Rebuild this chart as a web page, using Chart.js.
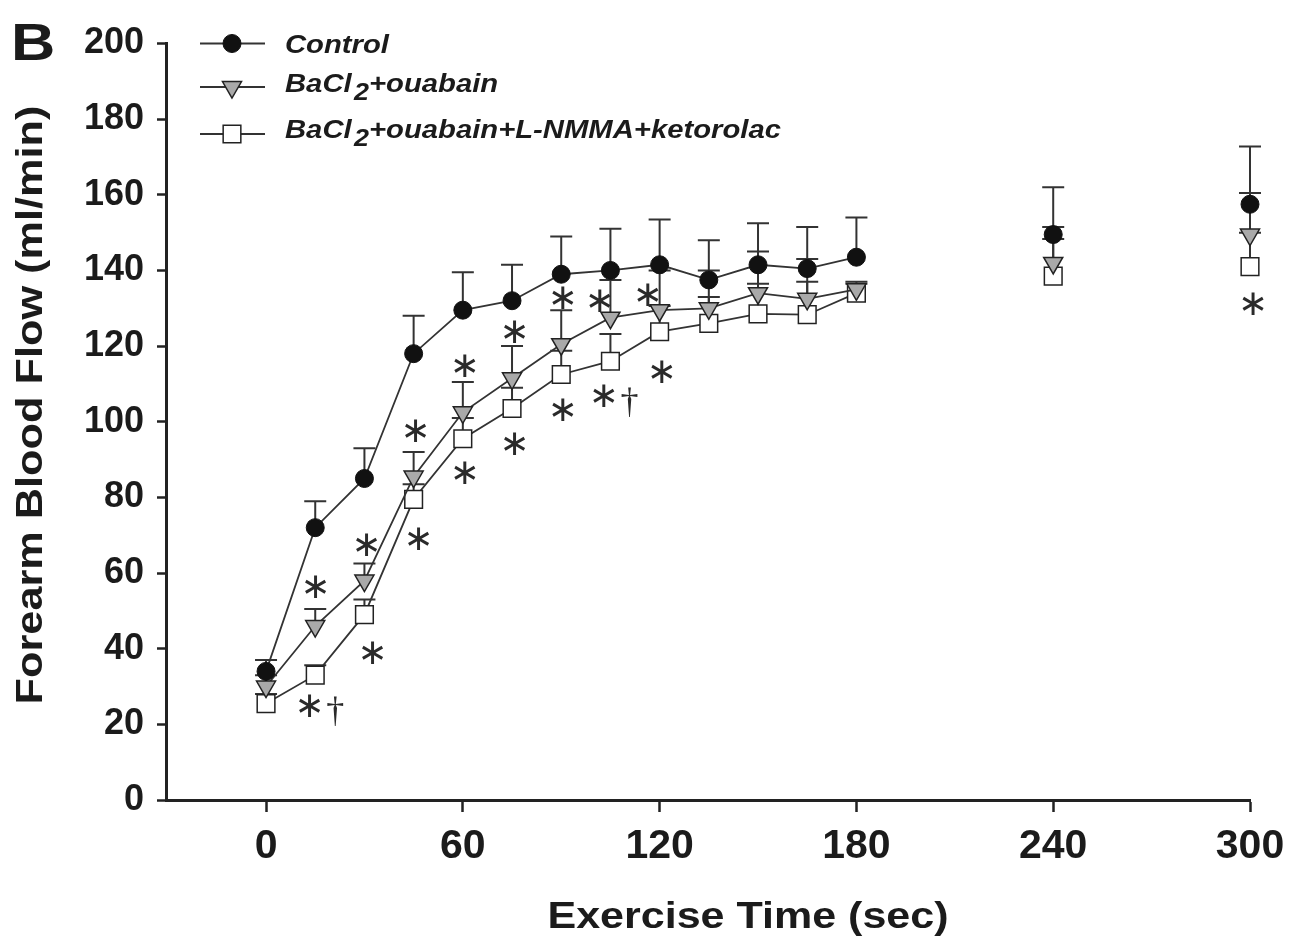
<!DOCTYPE html>
<html>
<head>
<meta charset="utf-8">
<script src="https://cdn.jsdelivr.net/npm/chart.js@4.4.0/dist/chart.umd.min.js"></script>
<style>
html,body{margin:0;padding:0;background:#ffffff;}
#wrap{width:1299px;height:948px;position:relative;}
</style>
</head>
<body>
<div id="wrap"><canvas id="c" width="1299" height="948"></canvas></div>
<script>
// ---------- data ----------
const times       = [0, 15, 30, 45, 60, 75, 90, 105, 120, 135, 150, 165, 180, 240, 300];
const controlMean = [34, 72, 85, 118, 129.5, 132, 139, 140, 141.5, 137.5, 141.5, 140.5, 143.5, 149.5, 157.5];
const controlSem  = [3, 7, 8, 10, 10, 9.5, 10, 11, 12, 10.5, 11, 11, 10.5, 12.5, 15.3];
const baMean      = [30, 46, 58, 85.5, 102.5, 111.5, 120.5, 127.5, 129.5, 130, 134, 132.5, 135, 142, 149.5];
const baSem       = [3, 4.5, 4.5, 6.5, 8, 8.5, 9, 10, 10.5, 10, 11, 10.5, 2, 9.5, 11];
const blockMean   = [25.5, 33, 49, 79.5, 95.5, 103.5, 112.5, 116, 123.8, 126, 128.5, 128.3, 134, 138.5, 141];
const blockSem    = [2.5, 2.6, 4, 4, 5.5, 5.5, 6.3, 7.2, 6.8, 7, 8, 8.7, 2.5, 9.8, 9];
const xTicks      = [0, 60, 120, 180, 240, 300];
const yTicks      = [0, 20, 40, 60, 80, 100, 120, 140, 160, 180, 200];
const seriesNames = ['Control', 'BaCl\u2082+ouabain', 'BaCl\u2082+ouabain+L-NMMA+ketorolac'];
// legend text pieces: [text, isSubscript]
const legendPieces = [
  [['Control', false]],
  [['BaCl', false], ['2', true], ['+ouabain', false]],
  [['BaCl', false], ['2', true], ['+ouabain+L-NMMA+ketorolac', false]]
];
// significance marks (data coordinates)
const sigX    = [15, 13.2, 21.1, 30.6, 32.4, 45.5, 46.4, 60.5, 60.5, 75.7, 75.7, 90.4, 90.4, 101.7, 102.9, 110.8, 116.3, 120.6, 300.9];
const sigY    = [55.8, 24.3, 23.8, 66.9, 38.3, 97.0, 68.7, 114.2, 85.9, 123.4, 93.8, 132.2, 102.6, 131.6, 106.3, 105.7, 133.2, 112.6, 130.8];
const sigText = ['\u2217', '\u2217', '\u2020', '\u2217', '\u2217', '\u2217', '\u2217', '\u2217', '\u2217', '\u2217', '\u2217', '\u2217', '\u2217', '\u2217', '\u2217', '\u2020', '\u2217', '\u2217', '\u2217'];
const xTitle = 'Exercise Time (sec)';
const yTitle = 'Forearm Blood Flow (ml/min)';
const panelLetter = 'B';

// ---------- styling ----------
const FAM = '"Liberation Sans", Arial, Helvetica, sans-serif';
const INK = '#1b1b1b';
const LINE = '#333333';
const means = [controlMean, baMean, blockMean];
const sems = [controlSem, baSem, blockSem];
const styles = [
  {pointStyle: 'circle', radius: 9, rotation: 0, bg: '#111111', border: '#111111', bw: 1},
  {pointStyle: 'triangle', radius: 11, rotation: 180, bg: '#a9a9a9', border: '#222222', bw: 1.5},
  {pointStyle: 'rect', radius: 12.5, rotation: 0, bg: '#ffffff', border: '#222222', bw: 1.5}
];

function stretchText(ctx, text, x, y, font, sx, align, baseline) {
  ctx.save();
  ctx.font = font;
  ctx.translate(x, y);
  ctx.scale(sx, 1);
  ctx.textAlign = align || 'left';
  ctx.textBaseline = baseline || 'alphabetic';
  ctx.fillText(text, 0, 0);
  ctx.restore();
}

const errorBars = {
  id: 'errorBars',
  beforeDatasetsDraw(chart) {
    const ctx = chart.ctx, ys = chart.scales.y;
    ctx.save();
    ctx.strokeStyle = LINE;
    ctx.lineWidth = 2;
    for (let i = chart.data.datasets.length - 1; i >= 0; i--) {
      const meta = chart.getDatasetMeta(i);
      meta.data.forEach((pt, j) => {
        const top = ys.getPixelForValue(means[i][j] + sems[i][j]);
        ctx.beginPath();
        ctx.moveTo(pt.x, pt.y);
        ctx.lineTo(pt.x, top);
        ctx.moveTo(pt.x - 11, top);
        ctx.lineTo(pt.x + 11, top);
        ctx.stroke();
      });
    }
    ctx.restore();
  }
};

const extras = {
  id: 'extras',
  afterDraw(chart) {
    const ctx = chart.ctx, xs = chart.scales.x, ys = chart.scales.y;
    ctx.save();
    // significance marks
    for (let k = 0; k < sigX.length; k++) {
      const px = xs.getPixelForValue(sigX[k]);
      const py = ys.getPixelForValue(sigY[k]);
      const isStar = sigText[k] === '\u2217';
      ctx.font = isStar ? '36px "DejaVu Sans", sans-serif' : '36px "Liberation Serif", serif';
      ctx.textAlign = 'center';
      ctx.textBaseline = 'middle';
      ctx.fillStyle = '#2a2a2a';
      ctx.fillText(sigText[k], px, isStar ? py : py + 3);
    }
    ctx.fillStyle = INK;
    // axis titles
    stretchText(ctx, xTitle, 748, 928, 'bold 37px ' + FAM, 1.163, 'center');
    ctx.save();
    ctx.translate(42, 405);
    ctx.rotate(-Math.PI / 2);
    stretchText(ctx, yTitle, 0, 0, 'bold 37px ' + FAM, 1.17, 'center');
    ctx.restore();
    // panel letter
    stretchText(ctx, panelLetter, 11, 60, 'bold 52px ' + FAM, 1.18, 'left');
    // legend
    const rowY = [43.5, 87, 134];
    const baseY = [53, 92, 138];
    for (let i = 0; i < legendPieces.length; i++) {
      ctx.strokeStyle = LINE;
      ctx.lineWidth = 1.8;
      ctx.beginPath();
      ctx.moveTo(200, rowY[i]);
      ctx.lineTo(265, rowY[i]);
      ctx.stroke();
      const s = styles[i];
      ctx.fillStyle = s.bg;
      ctx.strokeStyle = s.border;
      ctx.lineWidth = s.bw;
      Chart.helpers.drawPoint(ctx, {pointStyle: s.pointStyle, radius: s.radius, rotation: s.rotation, borderWidth: s.bw}, 232, rowY[i]);
      // text
      ctx.save();
      ctx.fillStyle = INK;
      ctx.translate(285, baseY[i]);
      ctx.scale(1.17, 1);
      ctx.textAlign = 'left';
      ctx.textBaseline = 'alphabetic';
      let x = 0;
      legendPieces[i].forEach(([t, sub]) => {
        ctx.font = 'italic bold ' + (sub ? 23 : 25) + 'px ' + FAM;
        if (sub) x += 2;
        ctx.fillText(t, x, sub ? 8 : 0);
        x += ctx.measureText(t).width;
      });
      ctx.restore();
    }
    ctx.restore();
  }
};

const gapSegment = {borderColor: c => (c.p1.parsed.x > 180 ? 'rgba(0,0,0,0)' : LINE)};

const datasets = means.map((m, i) => ({
  label: seriesNames[i],
  data: times.map((t, j) => ({x: t, y: m[j]})),
  borderColor: LINE,
  borderWidth: 1.8,
  tension: 0,
  fill: false,
  clip: false,
  pointStyle: styles[i].pointStyle,
  pointRotation: styles[i].rotation,
  pointRadius: styles[i].radius,
  pointHoverRadius: styles[i].radius,
  pointBackgroundColor: styles[i].bg,
  pointBorderColor: styles[i].border,
  pointBorderWidth: styles[i].bw,
  segment: gapSegment
}));

new Chart(document.getElementById('c'), {
  type: 'line',
  data: {datasets},
  options: {
    responsive: false,
    animation: false,
    devicePixelRatio: 1,
    layout: {padding: {top: 43.5, right: 49, left: 0, bottom: 0}},
    plugins: {legend: {display: false}, tooltip: {enabled: false}},
    scales: {
      x: {
        type: 'linear', min: -30.5, max: 300,
        afterBuildTicks: s => { s.ticks = xTicks.map(v => ({value: v})); },
        afterFit: s => { s.height = 148; },
        ticks: {font: {family: FAM, size: 41, weight: 'bold'}, color: INK, padding: 10, maxRotation: 0, autoSkip: false},
        grid: {drawOnChartArea: false, tickLength: 12, tickWidth: 2.5, tickColor: '#222'},
        border: {display: true, width: 3, color: '#222'}
      },
      y: {
        type: 'linear', min: 0, max: 200,
        afterBuildTicks: s => { s.ticks = yTicks.map(v => ({value: v})); },
        afterFit: s => { s.width = 166; },
        ticks: {font: {family: FAM, size: 36, weight: 'bold'}, color: INK, padding: 13, autoSkip: false},
        grid: {drawOnChartArea: false, tickLength: 9, tickWidth: 2.5, tickColor: '#222'},
        border: {display: true, width: 3, color: '#222'}
      }
    }
  },
  plugins: [errorBars, extras]
});
</script>
</body>
</html>
